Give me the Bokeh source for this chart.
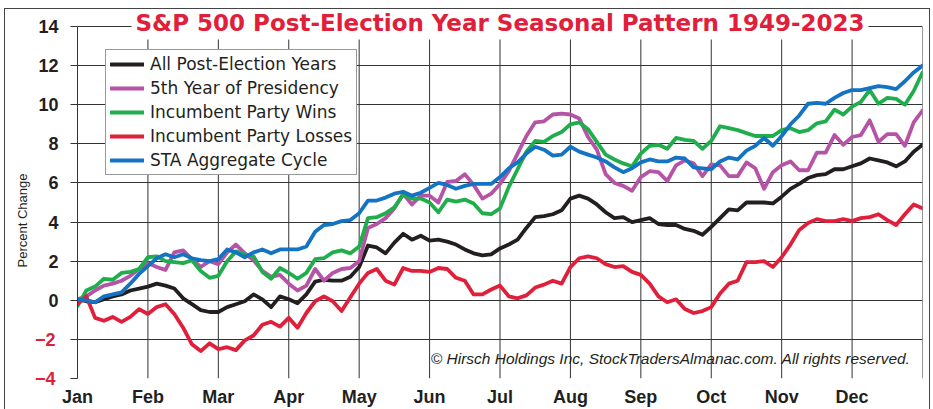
from bokeh.plotting import figure
from bokeh.models import (FixedTicker, Label, Legend, LegendItem, Range1d, InlineStyleSheet,
                          LinearAxis, Title)
from bokeh.embed import file_html
from bokeh.resources import INLINE

months = ["Jan", "Feb", "Mar", "Apr", "May", "Jun", "Jul", "Aug", "Sep", "Oct", "Nov", "Dec"]
month_ticks = list(range(13))
y_ticks = [-4, -2, 0, 2, 4, 6, 8, 10, 12, 14]

# position in the year, in months (eighths of a month)
month_pos = [i / 8 for i in range(97)]

all_post = [0.05, -0.05, -0.1, 0.05, 0.2, 0.3, 0.5, 0.6, 0.7, 0.85, 0.75, 0.6, 0.1, -0.2, -0.5, -0.6,
            -0.6, -0.35, -0.2, -0.05, 0.3, 0.05, -0.35, 0.2, 0.05, -0.15, 0.3, 0.95, 1.05, 1.0, 1.0, 1.2,
            1.7, 2.8, 2.7, 2.4, 2.95, 3.4, 3.1, 3.3, 3.05, 3.1, 3.0, 2.85, 2.6, 2.4, 2.3, 2.35,
            2.65, 2.85, 3.1, 3.7, 4.25, 4.3, 4.4, 4.6, 5.2, 5.35, 5.2, 4.9, 4.5, 4.2, 4.25, 4.0,
            4.1, 4.2, 3.9, 3.85, 3.85, 3.65, 3.55, 3.35, 3.75, 4.2, 4.65, 4.6, 5.0, 5.0, 5.0, 4.95,
            5.3, 5.7, 5.95, 6.25, 6.4, 6.45, 6.7, 6.7, 6.85, 7.0, 7.25, 7.15, 7.05, 6.85, 7.1, 7.6, 7.95]

fifth_year = [0.05, 0.2, 0.5, 0.75, 0.85, 1.0, 1.25, 1.6, 1.9, 1.7, 1.55, 2.45, 2.55, 2.1, 1.7, 2.0,
              1.85, 2.45, 2.85, 2.4, 2.05, 1.5, 1.2, 1.3, 0.85, 0.5, 0.75, 1.6, 1.0, 1.4, 1.6, 1.65,
              2.0, 3.7, 3.9, 4.2, 4.7, 5.45, 4.9, 5.35, 5.35, 5.0, 6.05, 6.1, 6.45, 5.9, 5.2, 5.45,
              5.95, 6.6, 7.5, 8.4, 9.1, 9.15, 9.5, 9.55, 9.5, 9.3, 8.35, 7.7, 6.45, 6.0, 5.85, 5.6,
              6.3, 6.6, 6.55, 6.1, 6.9, 7.15, 7.0, 6.35, 6.95, 6.9, 6.35, 6.35, 7.05, 6.75, 5.7, 6.55,
              6.9, 7.1, 6.65, 6.65, 7.55, 7.55, 8.45, 7.95, 8.35, 8.45, 9.2, 8.1, 8.5, 8.5, 7.9, 9.1, 9.7]

inc_wins = [-0.3, 0.5, 0.7, 1.1, 1.05, 1.4, 1.45, 1.6, 2.2, 2.25, 2.0, 1.95, 1.9, 2.05, 1.5, 1.15,
            1.25, 2.0, 2.5, 2.35, 2.25, 1.45, 1.1, 1.65, 1.4, 1.1, 1.4, 2.1, 2.15, 2.45, 2.55, 2.4,
            2.75, 4.2, 4.25, 4.45, 4.75, 5.4, 5.2, 5.2, 5.0, 4.5, 5.15, 5.05, 5.15, 4.95, 4.45, 4.4,
            4.7, 5.8, 6.7, 7.6, 8.15, 8.1, 8.4, 8.6, 9.0, 9.1, 8.75, 8.1, 7.45, 7.2, 7.0, 6.85,
            7.5, 7.9, 7.95, 7.75, 8.3, 8.2, 8.15, 7.75, 8.15, 8.9, 8.8, 8.7, 8.55, 8.4, 8.4, 8.4,
            8.7, 8.8, 8.6, 8.7, 9.05, 9.15, 9.75, 9.5, 9.9, 10.15, 10.75, 10.05, 10.35, 10.3, 10.0, 10.7, 11.65]

inc_losses = [-0.2, 0.2, -0.9, -1.05, -0.85, -1.1, -0.85, -0.45, -0.7, -0.35, -0.2, -0.7, -1.4, -2.25, -2.6, -2.2,
              -2.5, -2.4, -2.55, -2.05, -1.8, -1.25, -1.1, -1.35, -0.9, -1.4, -0.65, -0.05, 0.2, -0.05, -0.55, 0.15,
              0.85, 1.4, 1.6, 1.0, 0.8, 1.65, 1.5, 1.5, 1.45, 1.65, 1.6, 1.15, 1.0, 0.3, 0.3, 0.55,
              0.75, 0.2, 0.1, 0.25, 0.65, 0.8, 1.0, 0.85, 1.7, 2.15, 2.25, 2.15, 1.85, 1.7, 1.75, 1.45,
              1.3, 0.85, 0.2, -0.1, 0.05, -0.45, -0.65, -0.55, -0.35, 0.35, 0.85, 1.0, 1.95, 1.95, 2.0, 1.7,
              2.2, 2.85, 3.6, 3.95, 4.15, 4.05, 4.05, 4.15, 4.05, 4.2, 4.25, 4.4, 4.1, 3.85, 4.4, 4.9, 4.7]

sta_cycle = [0.05, 0.0, -0.1, 0.2, 0.3, 0.4, 0.85, 1.35, 1.75, 2.15, 2.35, 2.2, 2.35, 2.15, 2.05, 2.0,
             2.1, 2.6, 2.45, 2.2, 2.45, 2.6, 2.4, 2.6, 2.6, 2.6, 2.75, 3.5, 3.85, 3.9, 4.05, 4.1,
             4.45, 5.1, 5.1, 5.25, 5.45, 5.55, 5.35, 5.5, 5.75, 6.0, 5.9, 5.7, 5.85, 5.95, 5.95, 5.95,
             6.3, 6.75, 7.05, 7.5, 7.85, 7.7, 7.4, 7.45, 7.85, 7.6, 7.45, 7.3, 7.1, 6.8, 6.55, 6.75,
             7.05, 7.2, 7.1, 7.1, 7.3, 7.25, 6.8, 6.75, 6.7, 7.1, 7.3, 7.2, 7.65, 7.9, 8.3, 7.9,
             8.4, 9.0, 9.45, 10.05, 10.1, 10.05, 10.35, 10.6, 10.75, 10.75, 10.85, 10.95, 10.9, 10.8, 11.2, 11.65, 12.0]

series_names = ["All Post-Election Years", "5th Year of Presidency", "Incumbent Party Wins",
                "Incumbent Party Losses", "STA Aggregate Cycle"]
series_values = [all_post, fifth_year, inc_wins, inc_losses, sta_cycle]
series_colors = ["#231f20", "#b553a6", "#1fae4b", "#e0203a", "#1473c2"]

title_text = "S&P 500 Post-Election Year Seasonal Pattern 1949-2023"
credit_text = "\u00a9 Hirsch Holdings Inc, StockTradersAlmanac.com. All rights reserved."
y_label_text = "Percent Change"

GRID = "#333333"
RED = "#e0203a"
INK = "#231f20"

W, H = 933, 409
Y_TOP = 15.125                     # leaves room for the title inside the frame

p = figure(width=W, height=H, x_range=Range1d(month_ticks[0], month_ticks[-1]),
           y_range=Range1d(y_ticks[0], Y_TOP),
           output_backend="svg", toolbar_location=None,
           min_border_left=77, min_border_right=11, min_border_top=4, min_border_bottom=31)
p.background_fill_color = "white"
p.border_fill_color = "white"
p.outline_line_color = None

# x axis (month names under month starts)
p.xaxis.ticker = FixedTicker(ticks=month_ticks[:-1])
p.xaxis.major_label_overrides = {i: m for i, m in enumerate(months)}
p.xaxis.major_tick_out = 0
p.xaxis.major_tick_in = 0
p.xaxis.minor_tick_line_color = None
p.xaxis.axis_line_color = None
p.xaxis.major_label_standoff = 8
p.xaxis.major_label_text_font = "Liberation Sans"
p.xaxis.major_label_text_font_style = "bold"
p.xaxis.major_label_text_font_size = "18px"
p.xaxis.major_label_text_color = INK

# y axis: black labels for zero and up
p.yaxis.ticker = FixedTicker(ticks=y_ticks)
p.yaxis.bounds = (y_ticks[0], y_ticks[-1])
p.yaxis.major_label_overrides = {t: ("" if t < 0 else str(t)) for t in y_ticks}
p.yaxis.major_tick_out = 7
p.yaxis.major_tick_in = 0
p.yaxis.major_tick_line_color = GRID
p.yaxis.minor_tick_line_color = None
p.yaxis.axis_line_color = GRID
p.yaxis.major_label_standoff = 12
p.yaxis.major_label_text_font = "Liberation Sans"
p.yaxis.major_label_text_font_style = "bold"
p.yaxis.major_label_text_font_size = "18px"
p.yaxis.major_label_text_color = INK

# second left axis carrying only the red negative labels, pulled back onto the first axis' label column
neg_ticks = [t for t in y_ticks if t < 0]
neg_axis = LinearAxis(ticker=FixedTicker(ticks=neg_ticks),
                      major_label_overrides={t: "\u2212" + str(-t) for t in neg_ticks},
                      major_tick_in=0, major_tick_out=0, axis_line_color=None,
                      major_tick_line_color=None, minor_tick_line_color=None,
                      major_label_standoff=-20,
                      major_label_text_font="Liberation Sans", major_label_text_font_style="bold",
                      major_label_text_font_size="18px", major_label_text_color=RED)
p.add_layout(neg_axis, "left")

# y axis title
p.add_layout(Title(text=y_label_text, align="left", offset=111, standoff=4,
                   text_font="Liberation Sans", text_font_style="normal",
                   text_font_size="13px", text_color=INK), "left")

# grid
p.xgrid.visible = False
p.ygrid.ticker = FixedTicker(ticks=y_ticks)
p.ygrid.grid_line_color = GRID
p.ygrid.grid_line_width = 1
p.segment(x0=month_ticks, y0=[y_ticks[0]] * len(month_ticks), x1=month_ticks,
          y1=[y_ticks[-1]] * len(month_ticks), line_color=GRID, line_width=1, level="underlay")

# series
items = []
for vals, col, name in zip(series_values, series_colors, series_names):
    r = p.line(month_pos, vals, line_color=col, line_width=3.8, line_join="round", line_cap="round")
    items.append(LegendItem(label=name, renderers=[r]))

legend = Legend(items=items, location=(28, 203))
legend.border_line_color = GRID
legend.border_line_width = 1.5
legend.background_fill_color = "white"
legend.background_fill_alpha = 1
legend.padding = 4
legend.spacing = 4
legend.margin = 0
legend.label_height = 20
legend.glyph_height = 20
legend.glyph_width = 34
legend.label_standoff = 6
legend.label_text_font = "DejaVu Sans"
legend.label_text_font_size = "17px"
legend.label_text_color = INK
p.add_layout(legend)

# title over the top gridline
p.add_layout(Label(x=6, y=y_ticks[-1], y_offset=4, text=title_text, text_align="center",
                   text_baseline="middle", text_font="DejaVu Sans", text_font_style="bold",
                   text_font_size="23px", text_color=RED, background_fill_color="white", padding=4))

# credit line
p.add_layout(Label(x=12, y=-3, x_offset=-12, text=credit_text, text_align="right", text_baseline="middle",
                   text_font="Liberation Sans", text_font_style="italic", text_font_size="15.5px",
                   text_color=INK))

# outer frame around the whole chart
p.stylesheets = [InlineStyleSheet(css=(
    ":host { position: relative; }"
    ":host::after { content: ''; position: absolute; left: 4px; top: 8px; right: 3px; bottom: 0px;"
    " border: 1.5px solid #444; border-bottom: none; pointer-events: none; }"))]

open("out.html", "w").write(file_html(p, INLINE))
